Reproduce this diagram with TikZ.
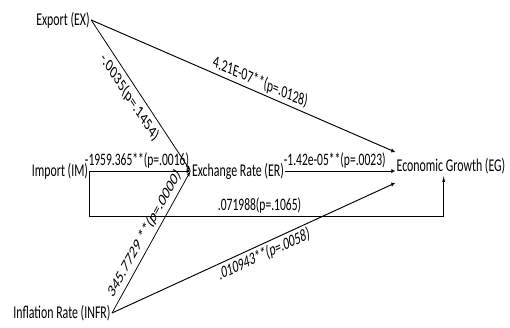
\documentclass[tikz,border=0pt]{standalone}
\usepackage{fontspec}
\setmainfont{Carlito}
\usetikzlibrary{arrows,shapes}
\tikzstyle{factor}=[inner sep=2pt,font=\fontsize{18}{20}\selectfont]
\tikzstyle{coef} = [sloped,inner sep=2.5pt,font=\fontsize{17.5}{19}\selectfont]
\tikzstyle{steep coef} = [coef,inner sep=5pt,font=\fontsize{18}{20}\selectfont]
\tikzstyle{edge} = [draw,line width=1pt,-latex]

\begin{document}
\begin{tikzpicture}[x=1pt,y=1pt]
    \useasboundingbox (0,0) rectangle (510,327);
    % the whole drawing is squeezed sideways
    \begin{scope}[transform canvas={xscale=0.66},x=1.515pt]
    % First we draw the factors
    \foreach \pos/\name/\txt in {{(63,307)/EX/Export (EX)}, {(60,156)/IM/Import (IM)}, {(238,156)/ER/Exchange Rate (ER)}, {(451,161)/EG/Economic Growth (EG)}, {(62,14)/INFR/Inflation Rate (INFR)}}
        \node[factor] (\name) at \pos {\txt};

    % Connect factors with edges
    \path[edge] (EX.east) -- node[steep coef,below,pos=0.45] {-.0035(p=.1454)} (ER.west);
    \path[edge] (EX.east) -- node[coef,above,pos=0.55] {4.21E-07**(p=.0128)} ([yshift=14pt]EG.west);
    \path[edge] (IM) -- node[coef,above,pos=0.47] {-1959.365**(p=.0016)} (ER);
    \path[edge] (ER) -- node[coef,above,pos=0.45] {-1.42e-05**(p=.0023)} (ER -| EG.west);
    \path[edge] (INFR.east) -- node[steep coef,above,pos=0.5] {345.7729 **(p=.0000)} (ER.west);
    \path[edge] (INFR.east) -- node[coef,below,pos=0.53] {.010943**(p=.0058)} ([yshift=-17pt]EG.west);
    % the direct path from import
    \path[edge] (IM.east) -- ++(0,-45) -| node[coef,above,pos=0.24] {.071988(p=.1065)} ([xshift=-11pt]EG.south);
    \end{scope}
\end{tikzpicture}
\end{document}
